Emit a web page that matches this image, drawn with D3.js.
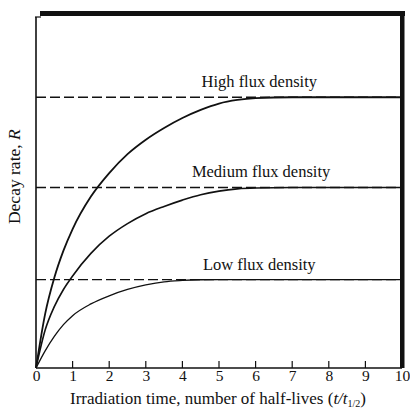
<!DOCTYPE html>
<html>
<head>
<meta charset="utf-8">
<script src="https://cdn.jsdelivr.net/npm/d3@7"></script>
<style>
  html, body { margin: 0; padding: 0; background: #fff; }
  svg { display: block; }
  text { font-family: "Liberation Serif", "DejaVu Serif", serif; fill: #111; }
</style>
</head>
<body>
<svg id="chart" width="410" height="415"></svg>
<script>
// ---- data ----
const xTicks = [0, 1, 2, 3, 4, 5, 6, 7, 8, 9, 10];
const times  = [0, 0.25, 0.5, 0.75, 1, 1.5, 2, 2.5, 3, 3.5, 4, 4.5, 5, 5.5, 6, 7, 8, 9, 10];
const highFlux   = [0, 0.6, 1.0, 1.3, 1.54, 1.9, 2.16, 2.37, 2.53, 2.66, 2.77, 2.86, 2.93, 2.97, 2.99, 3.0, 3.0, 3.0, 3.0];
const mediumFlux = [0, 0.42, 0.68, 0.87, 1.02, 1.27, 1.46, 1.6, 1.71, 1.79, 1.86, 1.92, 1.96, 1.985, 1.995, 2.0, 2.0, 2.0, 2.0];
const lowFlux    = [0, 0.19, 0.35, 0.48, 0.58, 0.71, 0.8, 0.87, 0.92, 0.955, 0.97, 0.978, 0.98, 0.98, 0.98, 0.98, 0.98, 0.98, 0.98];
const saturation = [3.0, 2.0, 0.98];
const seriesLabels = ["High flux density", "Medium flux density", "Low flux density"];
const labelTimes = [6.1, 6.15, 6.1];

// ---- layout ----
const svg = d3.select("#chart");
const x = d3.scaleLinear().domain([0, 10]).range([36, 402]);
const y = d3.scaleLinear().domain([0, 3.9]).range([368, 16]);

// asymptote dashed lines
svg.selectAll("line.sat").data(saturation).join("line")
  .attr("class", "sat")
  .attr("x1", x(0)).attr("x2", x(10))
  .attr("y1", d => y(d)).attr("y2", d => y(d))
  .attr("stroke", "#111").attr("stroke-width", 1.3)
  .attr("stroke-dasharray", "10,4");

// curves
const series = [highFlux, mediumFlux, lowFlux];
const widths = [1.8, 1.6, 1.3];
const line = d3.line()
  .x((d, i) => x(times[i]))
  .y(d => y(d))
  .curve(d3.curveMonotoneX);
svg.selectAll("path.curve").data(series).join("path")
  .attr("class", "curve")
  .attr("d", line)
  .attr("fill", "none")
  .attr("stroke", "#111")
  .attr("stroke-width", (d, i) => widths[i]);

// series labels
svg.selectAll("text.lab").data(seriesLabels).join("text")
  .attr("class", "lab")
  .attr("x", (d, i) => x(labelTimes[i]))
  .attr("y", (d, i) => y(saturation[i]) - 10)
  .attr("text-anchor", "middle")
  .attr("font-size", 16.5)
  .text(d => d);

// x axis
const xAxis = d3.axisBottom(x).tickValues(xTicks).tickSize(0).tickPadding(0).tickFormat(d3.format("d"));
const gx = svg.append("g").attr("transform", `translate(0,${y(0)})`).call(xAxis);
gx.select(".domain").remove();
gx.selectAll("text")
  .attr("dy", "13")
  .attr("font-size", 15.5)
  .attr("font-family", "Liberation Serif, serif")
  .attr("fill", "#111");
// inward tick marks
svg.selectAll("line.xt").data(xTicks.slice(1, -1)).join("line")
  .attr("class", "xt")
  .attr("x1", d => x(d)).attr("x2", d => x(d))
  .attr("y1", y(0)).attr("y2", y(0) - 7)
  .attr("stroke", "#111").attr("stroke-width", 1.2);

// frame
svg.append("line").attr("x1", x(0)).attr("x2", x(10)).attr("y1", y(0)).attr("y2", y(0))
  .attr("stroke", "#111").attr("stroke-width", 1.6);
svg.append("line").attr("x1", x(0)).attr("x2", x(0)).attr("y1", 17).attr("y2", y(0))
  .attr("stroke", "#111").attr("stroke-width", 1.6);
svg.append("line").attr("x1", x(0) - 1).attr("x2", 41).attr("y1", 17).attr("y2", 17)
  .attr("stroke", "#111").attr("stroke-width", 1.2);
svg.append("rect").attr("x", 40).attr("y", 11).attr("width", 365).attr("height", 5)
  .attr("fill", "#111");
svg.append("rect").attr("x", 400).attr("y", 11).attr("width", 4.5).attr("height", y(0) - 11)
  .attr("fill", "#111");

// x axis title
const xt = svg.append("text")
  .attr("x", 218).attr("y", 404)
  .attr("text-anchor", "middle")
  .attr("font-size", 17);
xt.append("tspan").text("Irradiation time, number of half-lives (");
xt.append("tspan").attr("font-style", "italic").text("t/t");
xt.append("tspan").attr("font-size", 10).attr("dy", 3).text("1/2");
xt.append("tspan").attr("dy", -3).text(")");

// y axis title
const yt = svg.append("text")
  .attr("transform", `translate(20,${y(2.12)}) rotate(-90)`)
  .attr("text-anchor", "middle")
  .attr("font-size", 17.5);
yt.append("tspan").text("Decay rate, ");
yt.append("tspan").attr("font-style", "italic").text("R");
</script>
</body>
</html>
